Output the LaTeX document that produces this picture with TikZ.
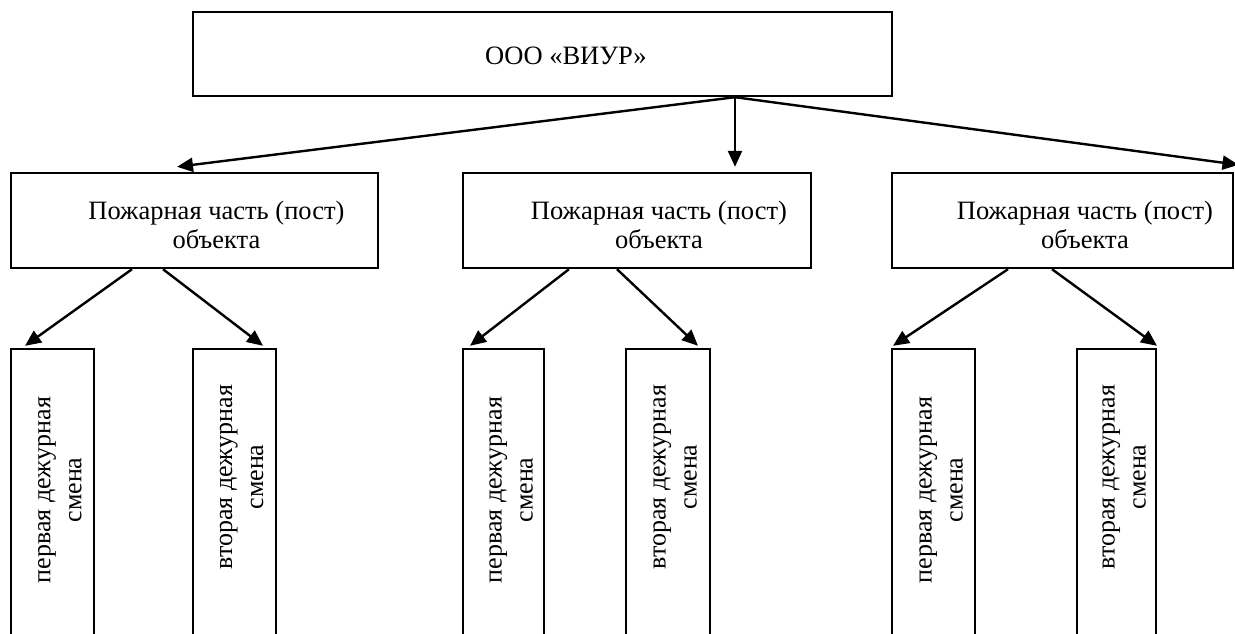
\documentclass[tikz,border=0pt]{standalone}
\usepackage{fontspec}
\setmainfont{Liberation Serif}
\usetikzlibrary{arrows.meta}
\begin{document}
\begin{tikzpicture}[x=1pt,y=-1pt,
  box/.style={draw,line width=2.4pt,rectangle,inner sep=0pt},
  lbl/.style={inner sep=0pt,align=center,font=\fontsize{26.5}{29}\selectfont},
  vlbl/.style={inner sep=0pt,align=center,rotate=90,font=\fontsize{26}{31}\selectfont},
  arr/.style={line width=2.4pt,-{Triangle[length=16pt,width=14pt]}}]
\useasboundingbox (0,0) rectangle (1235,633);
\clip (0,0) rectangle (1235,633);
% top
\node[box,minimum width=699pt,minimum height=84pt] (top) at (542.5,54) {};
\node[lbl] (toptxt) at (566,56) {ООО «ВИУР»};
% second row
\node[box,minimum width=367pt,minimum height=95pt] (p1) at (194.5,220.5) {};
\node[box,minimum width=348pt,minimum height=95pt] (p2) at (637,220.5) {};
\node[box,minimum width=341pt,minimum height=95pt] (p3) at (1062.5,220.5) {};
\node[lbl] (t1) at (216.5,225) {Пожарная часть (пост)\\объекта};
\node[lbl] (t2) at (659,225) {Пожарная часть (пост)\\объекта};
\node[lbl] (t3) at (1085,225) {Пожарная часть (пост)\\объекта};
% shifts
\node[box,minimum width=83pt,minimum height=300pt] (s1) at (52.5,499) {};
\node[box,minimum width=83pt,minimum height=300pt] (s2) at (234.5,499) {};
\node[box,minimum width=81pt,minimum height=300pt] (s3) at (503.5,499) {};
\node[box,minimum width=84pt,minimum height=300pt] (s4) at (668,499) {};
\node[box,minimum width=83pt,minimum height=300pt] (s5) at (933.5,499) {};
\node[box,minimum width=79pt,minimum height=300pt] (s6) at (1116.5,499) {};
\node[vlbl] (v1) at (60,490) {первая дежурная\\смена};
\node[vlbl] (v2) at (241.5,477) {вторая дежурная\\смена};
\node[vlbl] (v3) at (511,490) {первая дежурная\\смена};
\node[vlbl] (v4) at (675,477) {вторая дежурная\\смена};
\node[vlbl] (v5) at (941,490) {первая дежурная\\смена};
\node[vlbl] (v6) at (1124,477) {вторая дежурная\\смена};
% top arrows
\coordinate (o) at ([xshift=192.5pt]top.south);
\draw[arr] (o) -- ([xshift=-17.5pt,yshift=5pt]p1.north);
\draw[arr] (o) -- ([xshift=98pt,yshift=5pt]p2.north);
\draw[arr] (o) -- ([xshift=176pt,yshift=7pt]p3.north);
% lower arrows
\draw[arr] ([xshift=-62.5pt]p1.south) -- ([xshift=-27.5pt,yshift=2pt]s1.north);
\draw[arr] ([xshift=-31.5pt]p1.south) -- ([xshift=28.5pt,yshift=2pt]s2.north);
\draw[arr] ([xshift=-68pt]p2.south) -- ([xshift=-33.5pt,yshift=2pt]s3.north);
\draw[arr] ([xshift=-20pt]p2.south) -- ([xshift=30pt,yshift=2pt]s4.north);
\draw[arr] ([xshift=-54.5pt]p3.south) -- ([xshift=-40.5pt,yshift=2pt]s5.north);
\draw[arr] ([xshift=-10.5pt]p3.south) -- ([xshift=40.5pt,yshift=2pt]s6.north);
\end{tikzpicture}
\end{document}
